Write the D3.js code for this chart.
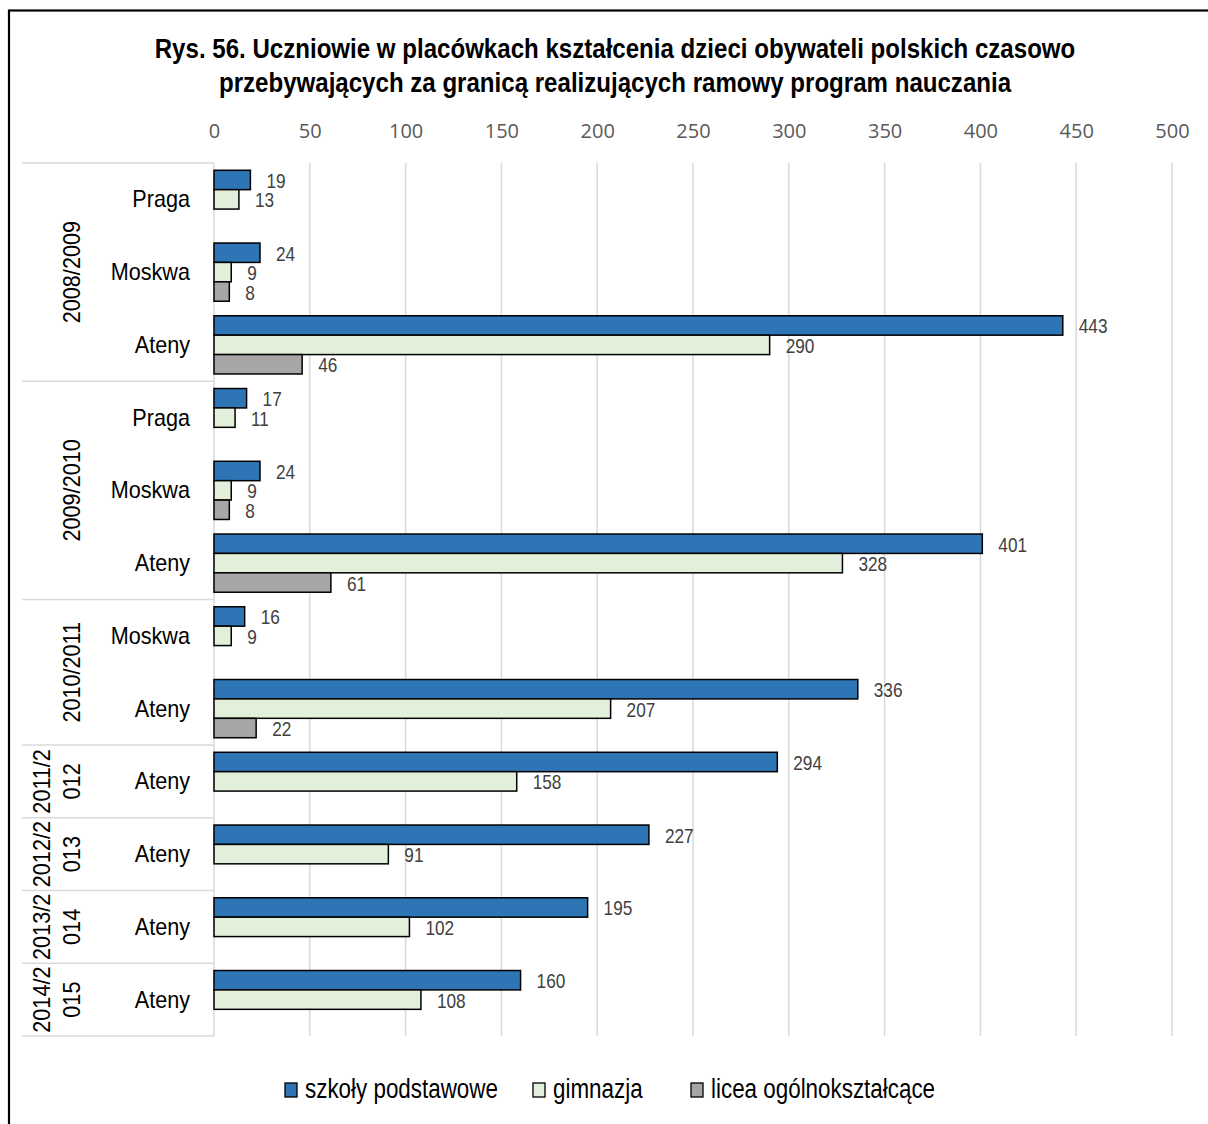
<!DOCTYPE html>
<html>
<head>
<meta charset="utf-8">
<script src="https://cdn.jsdelivr.net/npm/d3@7"></script>
<style>
body { margin:0; background:#fff; }
.narrow { font-family: "Liberation Sans", Arial, sans-serif; }
</style>
</head>
<body>
<div id="chart"></div>
<script>
// dane
var title = ["Rys. 56. Uczniowie w placówkach kształcenia dzieci obywateli polskich czasowo",
             "przebywających za granicą realizujących ramowy program nauczania"];
var seriesNames = ["szkoły podstawowe", "gimnazja", "licea ogólnokształcące"];
var rowYear = ["2008/2009","2008/2009","2008/2009","2009/2010","2009/2010","2009/2010",
               "2010/2011","2010/2011","2011/2012","2012/2013","2013/2014","2014/2015"];
var rowCity = ["Praga","Moskwa","Ateny","Praga","Moskwa","Ateny","Moskwa","Ateny","Ateny","Ateny","Ateny","Ateny"];
var yearLabels = {
    "2008/2009": ["2008/2009"],
    "2009/2010": ["2009/2010"],
    "2010/2011": ["2010/2011"],
    "2011/2012": ["2011/2", "012"],
    "2012/2013": ["2012/2", "013"],
    "2013/2014": ["2013/2", "014"],
    "2014/2015": ["2014/2", "015"]
};
var szkoly   = [19, 24, 443, 17, 24, 401, 16, 336, 294, 227, 195, 160];
var gimnazja = [13, 9, 290, 11, 9, 328, 9, 207, 158, 91, 102, 108];
var licea    = [null, 8, 46, null, 8, 61, null, 22, null, null, null, null];
var xTicks = [0, 50, 100, 150, 200, 250, 300, 350, 400, 450, 500];

var colors = ["#2e75b6", "#e2efda", "#a6a6a6"];
var W = 1208, H = 1124;
var plot = {left:214, right:1172, top:163, bottom:1036};
// Arial Narrow zastępowany ściśniętym Liberation Sans
var sx = function(k){ return " scale(" + k + ",1)"; };

var svg = d3.select("#chart").append("svg")
    .attr("width", W)
    .attr("height", H);

// ramka
svg.append("rect")
    .attr("x", 9).attr("y", 10.5)
    .attr("width", 1400).attr("height", 1400)
    .attr("fill", "none")
    .attr("stroke", "#000")
    .attr("stroke-width", 2.2);

svg.append("g").selectAll("text")
    .data(title)
    .enter().append("text")
    .attr("class", "narrow")
    .attr("transform", function(d, i){ return "translate(615," + (58 + i * 34) + ")" + sx(0.86); })
    .attr("text-anchor", "middle")
    .style("font-size", "28px")
    .style("font-weight", "bold")
    .text(function(d){ return d; });

var rows = d3.range(rowCity.length);
var values = [szkoly, gimnazja, licea];

var scaleX = d3.scaleLinear().domain([0, 500]).range([plot.left, plot.right]);
var scaleY = d3.scaleBand().domain(rows).range([plot.top, plot.bottom])
    .paddingInner(0.2).paddingOuter(0.1);
var scaleS = d3.scaleBand().domain([0, 1, 2]).range([0, scaleY.bandwidth()]);
var step = scaleY.step();

// siatka
svg.append("g").selectAll("line")
    .data(xTicks)
    .enter().append("line")
    .attr("x1", function(d){ return scaleX(d); })
    .attr("x2", function(d){ return scaleX(d); })
    .attr("y1", plot.top)
    .attr("y2", plot.bottom)
    .attr("stroke", "#d9d9d9")
    .attr("stroke-width", 1.5);

var xAxis = d3.axisTop(scaleX).tickValues(xTicks).tickSize(0).tickPadding(0);
var gx = svg.append("g")
    .attr("transform", "translate(0,138)")
    .call(xAxis);
gx.select(".domain").remove();
gx.selectAll("text")
    .attr("fill", "#595959")
    .style("font-family", "'Open Sans', sans-serif")
    .style("font-size", "20px");

// grupy lat
var groups = [];
rows.forEach(function(r){
    var y = rowYear[r];
    if (!groups.length || groups[groups.length - 1].year !== y) {
        groups.push({year:y, start:r, end:r});
    } else {
        groups[groups.length - 1].end = r;
    }
});
var rowTop = function(r){ return plot.top + r * step; };

var sep = [plot.top].concat(groups.map(function(g){ return rowTop(g.end + 1); }));
svg.append("g").selectAll("line")
    .data(sep)
    .enter().append("line")
    .attr("x1", 22).attr("x2", plot.left)
    .attr("y1", function(d){ return d; })
    .attr("y2", function(d){ return d; })
    .attr("stroke", "#d9d9d9")
    .attr("stroke-width", 1.5);

var yearG = svg.append("g").selectAll("g")
    .data(groups)
    .enter().append("g")
    .attr("transform", function(g){
        var cy = (rowTop(g.start) + rowTop(g.end + 1)) / 2;
        return "translate(0," + cy + ") rotate(-90)";
    });
yearG.each(function(g){
    var lines = yearLabels[g.year];
    d3.select(this).selectAll("text")
        .data(lines)
        .enter().append("text")
        .attr("class", "narrow")
        .attr("transform", function(d, i){
            var b = lines.length === 1 ? 80 : 50 + i * 30;
            return "translate(0," + b + ")" + sx(0.94);
        })
        .attr("text-anchor", "middle")
        .style("font-size", "23px")
        .text(function(d){ return d; });
});

svg.append("g").selectAll("text")
    .data(rows)
    .enter().append("text")
    .attr("class", "narrow")
    .attr("transform", function(r){
        return "translate(190," + (scaleY(r) + scaleY.bandwidth() / 2 + 8) + ")" + sx(0.94);
    })
    .attr("text-anchor", "end")
    .style("font-size", "23px")
    .text(function(r){ return rowCity[r]; });

// słupki
var bars = [];
values.forEach(function(arr, s){
    arr.forEach(function(v, r){
        if (v !== null) bars.push({s:s, r:r, v:v});
    });
});

svg.append("g").selectAll("rect")
    .data(bars)
    .enter().append("rect")
    .attr("x", scaleX(0))
    .attr("y", function(d){ return scaleY(d.r) + scaleS(d.s); })
    .attr("width", function(d){ return scaleX(d.v) - scaleX(0); })
    .attr("height", scaleS.bandwidth())
    .attr("fill", function(d){ return colors[d.s]; })
    .attr("stroke", "#000")
    .attr("stroke-width", 1.5);

svg.append("g").selectAll("text")
    .data(bars)
    .enter().append("text")
    .attr("class", "narrow")
    .attr("transform", function(d){
        var x = scaleX(d.v) + 16;
        var y = scaleY(d.r) + scaleS(d.s) + scaleS.bandwidth() / 2 + 8;
        return "translate(" + x + "," + y + ")" + sx(0.82);
    })
    .attr("fill", "#404040")
    .style("font-size", "21px")
    .text(function(d){ return d.v; });

// legenda
var legendX = [285, 533, 691];
var legend = svg.append("g").selectAll("g")
    .data(seriesNames)
    .enter().append("g")
    .attr("transform", function(d, i){ return "translate(" + legendX[i] + ",1083)"; });
legend.append("rect")
    .attr("width", 12).attr("height", 14)
    .attr("fill", function(d, i){ return colors[i]; })
    .attr("stroke", "#000")
    .attr("stroke-width", 1.3);
legend.append("text")
    .attr("class", "narrow")
    .attr("transform", "translate(20,15)" + sx(0.8))
    .style("font-size", "28px")
    .text(function(d){ return d; });
</script>
</body>
</html>
